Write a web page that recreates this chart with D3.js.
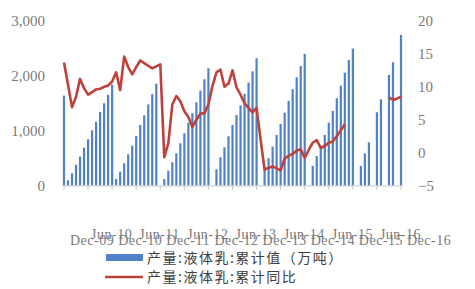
<!DOCTYPE html>
<html><head><meta charset="utf-8">
<script src="https://cdn.jsdelivr.net/npm/d3@7/dist/d3.min.js"></script>
<style>body{margin:0;background:#fff}svg{display:block}</style>
</head><body><svg id="c" width="475" height="289"></svg>
<script>
// Monthly categories Dec-2009 .. Dec-2016
const startMonth = new Date(2009, 11, 1);
const endMonth = new Date(2016, 11, 1);
const months = d3.timeMonth.range(startMonth, d3.timeMonth.offset(endMonth, 1));

// 产量:液体乳:累计值（万吨） (null = no data)
const cumValue = [
  1640,
  95, 225, 378, 528, 690, 843, 1007, 1159, 1341, 1500, 1655, 1840,
  119, 252, 405, 569, 726, 903, 1104, 1280, 1478, 1667, 1858, null,
  116, 270, 423, 588, 770, 953, 1146, 1318, 1518, 1730, 1938, 2139,
  null, 295, 515, 697, 897, 1104, 1286, 1460, 1670, 1876, 2083, 2321,
  null, 285, 500, 708, 922, 1122, 1328, 1542, 1755, 1974, 2180, 2400,
  null, 358, 538, 726, 922, 1146, 1360, 1591, 1821, 2058, 2290, 2497,
  null, 356, 587, 788, null, 1336, 1573, null, 2016, 2248, null, 2746
];
// 产量:液体乳:累计同比 (%)
const cumYoY = [
  13.7,
  10.3, 6.9, 8.5, 11.2, 9.8, 8.8, 9.2, 9.6, 9.7, 10.0, 10.2, 10.8,
  12.2, 9.5, 14.6, 13.0, 11.9, 13.0, 14.0, 13.6, 13.2, 12.8, 13.1, 13.4,
  -0.7, 1.4, 7.3, 8.6, 7.8, 6.3, 5.4, 3.9, 5.0, 5.9, 6.0, 7.3,
  10.1, 12.2, 12.6, 10.0, 10.5, 12.5, 9.9, 8.8, 7.5, 6.8, 6.1, 6.8,
  2.0, -2.6, -2.3, -2.1, -2.4, -2.7, -0.9, -0.5, -0.2, 0.3, 0.5, -0.8,
  0.4, 1.5, 1.9, 0.7, 1.0, 1.5, 1.7, 2.5, 3.4, 4.3, null, null,
  null, null, null, null, null, null, null, null, 8.4, 8.0, 8.2, 8.5
];
const leftTicks = [0, 1000, 2000, 3000];
const rightTicks = [-5, 0, 5, 10, 15, 20];
const seriesNames = ["产量:液体乳:累计值（万吨）", "产量:液体乳:累计同比"];

const svg = d3.select("#c");
const fmtLabel = d3.timeFormat("%b-%y");

const x = d3.scalePoint().domain(d3.range(months.length)).range([64, 401]);
const yL = d3.scaleLinear().domain([0, 3000]).range([185.5, 21]);
const yR = d3.scaleLinear().domain([-5, 20]).range([185.5, 21]);

// bars
svg.append("g").selectAll("rect")
  .data(cumValue.map((v, i) => ({v, i})).filter(d => d.v != null))
  .join("rect")
  .attr("x", d => x(d.i) - 1.1)
  .attr("width", 2.2)
  .attr("y", d => yL(d.v))
  .attr("height", d => yL(0) - yL(d.v))
  .attr("fill", "#4f82c8");

// x axis line & ticks
const tickIdx = d3.range(0, months.length, 6);
svg.append("line").attr("x1", 62).attr("x2", 403).attr("y1", 186).attr("y2", 186)
  .attr("stroke", "#c8c8c8").attr("stroke-width", 1);
svg.append("g").selectAll("line").data(tickIdx).join("line")
  .attr("x1", d => x(d)).attr("x2", d => x(d)).attr("y1", 186).attr("y2", 190)
  .attr("stroke", "#c8c8c8");

// line
const line = d3.line()
  .defined(d => d.v != null)
  .x(d => x(d.i)).y(d => yR(d.v));
svg.append("path")
  .datum(cumYoY.map((v, i) => ({v, i})))
  .attr("d", line)
  .attr("fill", "none").attr("stroke", "#c0403c").attr("stroke-width", 2.6)
  .attr("stroke-linejoin", "round");

// left axis
const axL = svg.append("g").attr("transform", "translate(45,0)")
  .call(d3.axisLeft(yL).tickValues(leftTicks).tickSize(0).tickPadding(0).tickFormat(d3.format(",")));
axL.select(".domain").remove();
// right axis
const axR = svg.append("g").attr("transform", "translate(418,0)")
  .call(d3.axisRight(yR).tickValues(rightTicks).tickSize(0).tickPadding(0));
axR.select(".domain").remove();
svg.selectAll(".tick text")
  .attr("font-family", "'Liberation Serif','DejaVu Serif',serif")
  .attr("font-size", 15).attr("fill", "#7a7a7a");

// x labels (overlapping as in source)
svg.append("clipPath").attr("id", "clipx").append("rect")
  .attr("x", 0).attr("y", 200).attr("width", 451).attr("height", 60);
svg.append("g").attr("clip-path", "url(#clipx)")
  .selectAll("text").data(tickIdx).join("text")
  .attr("x", d => x(d) + (months[d].getMonth() === 11 ? 6 : 3))
  .attr("y", d => months[d].getMonth() === 11 ? 245 : 239)
  .attr("font-family", "'Liberation Serif','DejaVu Serif',serif")
  .attr("font-size", 14).attr("letter-spacing", "0.5px").attr("fill", "#7a7a7a")
  .text(d => fmtLabel(months[d]));

// legend
const lg = svg.append("g");
lg.append("rect").attr("x", 106).attr("y", 254).attr("width", 37).attr("height", 7).attr("fill", "#4f82c8");
lg.append("line").attr("x1", 105).attr("x2", 143).attr("y1", 277).attr("y2", 277)
  .attr("stroke", "#c0403c").attr("stroke-width", 2.6);
lg.selectAll("text").data(seriesNames).join("text")
  .attr("x", 147).attr("y", (d, i) => i === 0 ? 258 : 277)
  .attr("dy", "0.35em")
  .attr("font-family", "'Noto Sans CJK SC', sans-serif")
  .attr("font-size", 14).attr("letter-spacing", "1.5px").attr("fill", "#404040")
  .text(d => d);
</script>
</body></html>
